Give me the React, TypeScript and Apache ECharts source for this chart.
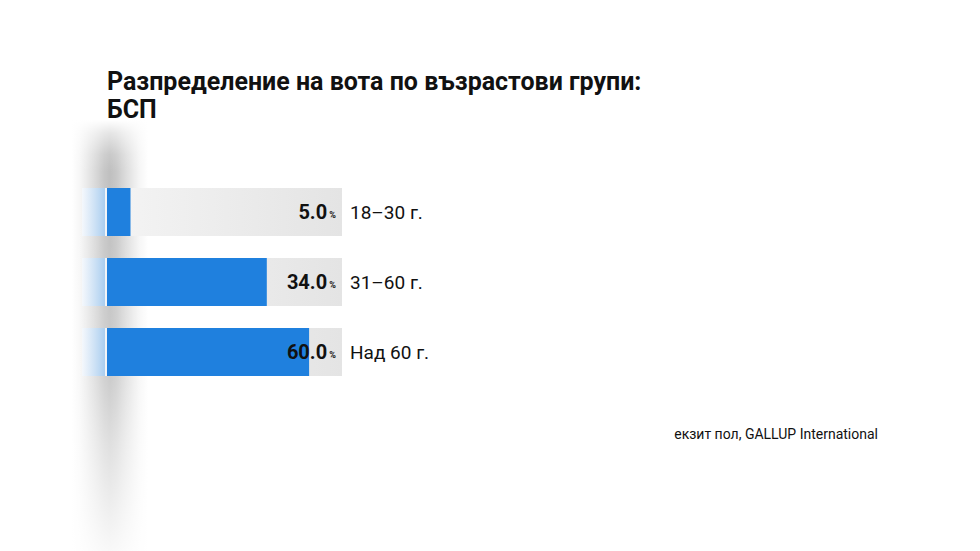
import React, { useEffect, useRef } from "react";
import * as echarts from "echarts";

const titleText = "Разпределение на вота по възрастови групи:\nБСП";
const sourceText = "екзит пол, GALLUP International";
const categories = ["18–30 г.", "31–60 г.", "Над 60 г."];
const labelValues = [5.0, 34.0, 60.0];
// bar lengths as drawn in the picture (percent units)
const barShown = [5, 34, 43];
const axisMin = -5.32;
const axisMax = 50;
const gapValue = [-0.43, -0.43, -0.43];
const lightValue = [-4.89, -4.89, -4.89];

const FONT = "Roboto, 'Noto Sans', sans-serif";

export default function App() {
  const ref = useRef<HTMLDivElement>(null);
  useEffect(() => {
    document.body.style.margin = "0";
    const chart = echarts.init(ref.current!, undefined, { renderer: "svg" });
    const hGrad = new echarts.graphic.LinearGradient(0, 0, 1, 0, [
      { offset: 0, color: "rgba(0,0,0,0)" },
      { offset: 0.12, color: "rgba(0,0,0,0.04)" },
      { offset: 0.28, color: "rgba(0,0,0,0.13)" },
      { offset: 0.42, color: "rgba(0,0,0,0.22)" },
      { offset: 0.5, color: "rgba(0,0,0,0.25)" },
      { offset: 0.58, color: "rgba(0,0,0,0.22)" },
      { offset: 0.72, color: "rgba(0,0,0,0.13)" },
      { offset: 0.88, color: "rgba(0,0,0,0.04)" },
      { offset: 1, color: "rgba(0,0,0,0)" },
    ]);
    const vFade = new echarts.graphic.LinearGradient(0, 0, 0, 1, [
      { offset: 0, color: "rgba(255,255,255,1)" },
      { offset: 0.03, color: "rgba(255,255,255,0.6)" },
      { offset: 0.08, color: "rgba(255,255,255,0.15)" },
      { offset: 0.12, color: "rgba(255,255,255,0)" },
      { offset: 0.6, color: "rgba(255,255,255,0.2)" },
      { offset: 0.75, color: "rgba(255,255,255,0.5)" },
      { offset: 1, color: "rgba(255,255,255,0.9)" },
    ]);
    chart.setOption({
      animation: false,
      backgroundColor: "#ffffff",
      title: {
        text: titleText,
        left: 107,
        top: 67,
        padding: 0,
        textStyle: {
          fontFamily: FONT,
          fontSize: 25,
          fontWeight: "bold",
          color: "#111",
          lineHeight: 28,
        },
      },
      graphic: [
        {
          type: "rect",
          z: 0,
          silent: true,
          shape: { x: 72, y: 120, width: 76, height: 431 },
          style: { fill: hGrad },
        },
        {
          type: "rect",
          z: 1,
          silent: true,
          shape: { x: 68, y: 120, width: 84, height: 431 },
          style: { fill: vFade },
        },
        {
          type: "text",
          right: 102,
          top: 427,
          z: 5,
          style: {
            text: sourceText,
            fontFamily: FONT,
            fontSize: 14,
            fill: "#111",
          },
        },
      ],
      grid: { left: 82, top: 177, width: 260, height: 210 },
      xAxis: {
        type: "value",
        min: axisMin,
        max: axisMax,
        show: false,
      },
      yAxis: {
        type: "category",
        data: categories,
        inverse: true,
        position: "right",
        axisLine: { show: false },
        axisTick: { show: false },
        axisLabel: {
          margin: 8,
          fontFamily: FONT,
          fontSize: 19,
          color: "#111",
        },
      },
      series: [
        {
          type: "bar",
          name: "gap",
          stack: "a",
          z: 3,
          barWidth: 48,
          barGap: "-100%",
          data: gapValue,
          itemStyle: { color: "#f2f4f7" },
          showBackground: true,
          backgroundStyle: {
            color: new echarts.graphic.LinearGradient(0, 0, 1, 0, [
              { offset: 0, color: "#f6f6f6" },
              { offset: 1, color: "#e4e4e4" },
            ]),
          },
        },
        {
          type: "bar",
          name: "light",
          stack: "a",
          z: 3,
          barWidth: 48,
          barGap: "-100%",
          data: lightValue,
          itemStyle: {
            color: new echarts.graphic.LinearGradient(0, 0, 1, 0, [
              { offset: 0, color: "rgba(244,248,253,0.85)" },
              { offset: 1, color: "#a9cdef" },
            ]),
          },
        },
        {
          type: "bar",
          name: "value",
          stack: "a",
          z: 3,
          barWidth: 48,
          barGap: "-100%",
          data: barShown,
          itemStyle: { color: "#1f80de" },
        },
        {
          type: "bar",
          name: "labels",
          z: 4,
          barWidth: 48,
          barGap: "-100%",
          data: labelValues.map(() => axisMax),
          itemStyle: { color: "rgba(0,0,0,0)" },
          label: {
            show: true,
            position: "insideRight",
            distance: 6,
            formatter: (p: any) =>
              "{v|" + labelValues[p.dataIndex].toFixed(1) + "}{s| }{p|%}",
            rich: {
              v: {
                fontFamily: FONT,
                fontSize: 20,
                fontWeight: "bold",
                color: "#111",
              },
              s: { fontSize: 8 },
              p: {
                fontFamily: FONT,
                fontSize: 9,
                fontWeight: "bold",
                color: "#111",
                padding: [6, 0, 0, 0],
              },
            },
          },
        },
      ],
    });
    return () => chart.dispose();
  }, []);
  return <div ref={ref} style={{ width: 980, height: 551 }} />;
}
